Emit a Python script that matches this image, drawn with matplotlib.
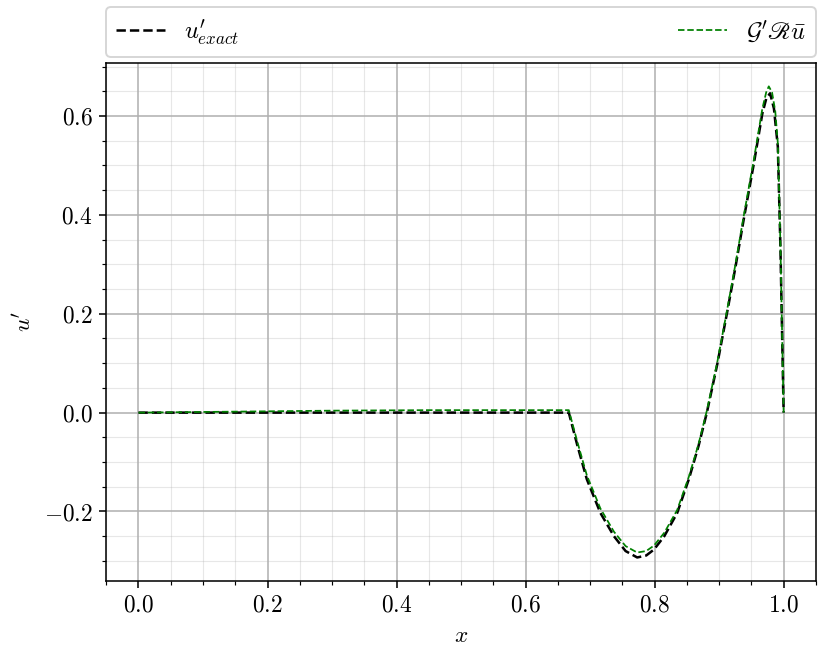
import numpy as np
import matplotlib
matplotlib.use('Agg')
import matplotlib.pyplot as plt
from matplotlib.ticker import AutoMinorLocator

# Values
x_exact = [0.0, 0.667, 0.680, 0.695, 0.716, 0.737, 0.755, 0.773, 0.787, 0.799,
           0.815, 0.835, 0.853, 0.868, 0.881, 0.897, 0.912, 0.925, 0.938, 0.954,
           0.967, 0.973, 0.979, 0.985, 0.991, 0.995, 1.0]
u_exact = [0.0, 0.0, -0.065, -0.135, -0.203, -0.250, -0.280, -0.293, -0.289, -0.277,
           -0.250, -0.203, -0.135, -0.068, 0.0, 0.097, 0.200, 0.292, 0.390, 0.505,
           0.605, 0.635, 0.646, 0.615, 0.538, 0.336, 0.0]

x_model = [0.0, 0.15, 0.3, 0.45, 0.667, 0.680, 0.695, 0.716, 0.737, 0.755, 0.773,
           0.787, 0.799, 0.815, 0.835, 0.853, 0.868, 0.881, 0.897, 0.912, 0.925,
           0.938, 0.954, 0.967, 0.973, 0.977, 0.982, 0.987, 0.991, 0.995, 1.0]
u_model = [0.0, 0.002, 0.004, 0.005, 0.005, -0.058, -0.127, -0.194, -0.241, -0.270,
           -0.283, -0.280, -0.269, -0.243, -0.197, -0.130, -0.064, 0.004, 0.101, 0.205,
           0.298, 0.397, 0.513, 0.615, 0.648, 0.660, 0.648, 0.610, 0.545, 0.340, 0.0]

plt.rcParams['font.family'] = 'serif'
plt.rcParams['font.serif'] = ['cmr10']
plt.rcParams['mathtext.fontset'] = 'cm'
plt.rcParams['axes.formatter.use_mathtext'] = True
plt.rcParams['font.size'] = 12

dpi = 140
fig = plt.figure(figsize=(830 / dpi, 661 / dpi), dpi=dpi)
ax = fig.add_axes([0.128, 0.121, 0.855, 0.784])

ax.plot(x_exact, u_exact, '--', color='black', lw=1.3, label=r"$u^{\prime}_{exact}$")
ax.plot(x_model, u_model, '--', color='green', lw=0.9, label=r"$\mathcal{G}^{\prime}\mathscr{R}\bar{u}$")

ax.set_xlabel(r'$x$')
ax.set_ylabel(r"$u^{\prime}$")
ax.set_xticks([0.0, 0.2, 0.4, 0.6, 0.8, 1.0])
ax.set_yticks([-0.2, 0.0, 0.2, 0.4, 0.6])
ax.xaxis.set_minor_locator(AutoMinorLocator(4))
ax.yaxis.set_minor_locator(AutoMinorLocator(4))
ax.grid(which='major', color='#b0b0b0', lw=0.8)
ax.grid(which='minor', color='#b0b0b0', lw=0.6, alpha=0.3)

ax.legend(bbox_to_anchor=(0, 1.012, 1, 0.1), loc='lower left', ncol=2,
          mode='expand', borderaxespad=0., fontsize=12.5)

fig.savefig('out.png', dpi=dpi)
